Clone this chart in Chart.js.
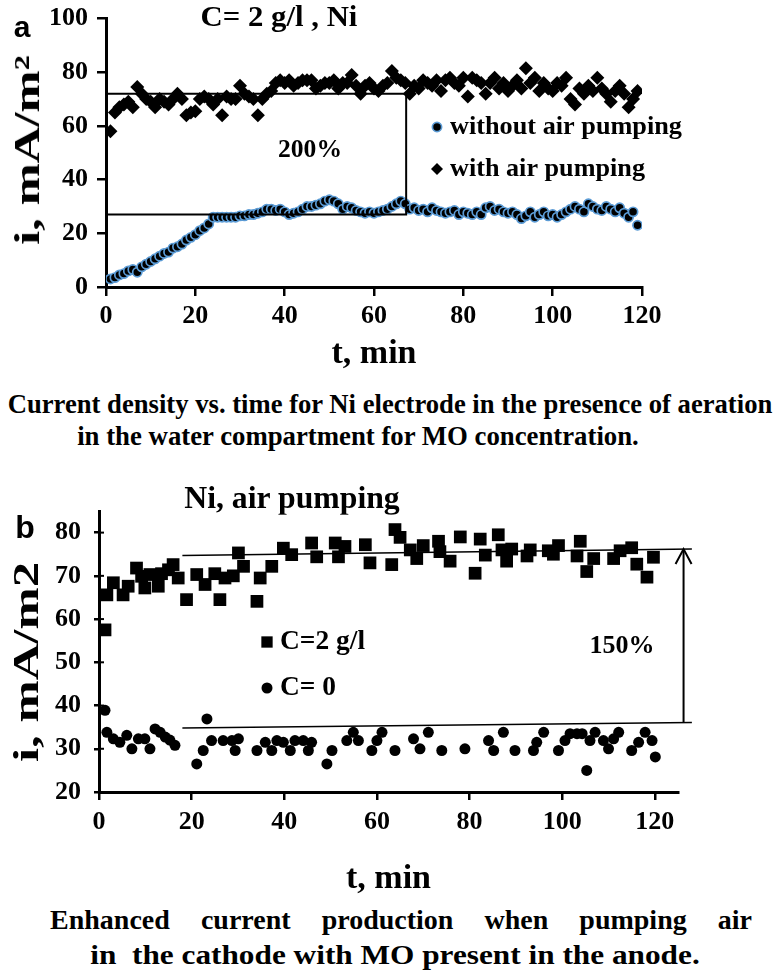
<!DOCTYPE html>
<html>
<head>
<meta charset="utf-8">
<script src="https://cdn.jsdelivr.net/npm/chart.js@4/dist/chart.umd.min.js"></script>
<style>
  body { margin: 0; width: 776px; height: 971px; background: #fff; position: relative; overflow: hidden;
         font-family: 'Liberation Serif', serif; font-weight: bold; color: #000; }
  .box { position: absolute; left: 0; width: 776px; }
  .t { position: absolute; white-space: nowrap; line-height: 1; transform: translate(-50%, -50%); }
  .sans { font-family: 'Liberation Sans', sans-serif; }
</style>
</head>
<body>
<div class="box" style="top:-6px;height:381px"><canvas id="chartA"></canvas></div>
<div class="box" style="top:470px;height:430px"><canvas id="chartB"></canvas></div>

<div class="t sans" style="left:22px;top:27px;font-size:30px">a</div>
<div class="t" style="left:279px;top:16px;font-size:29px" data-w="157">C= 2 g/l , Ni</div>
<div class="t" style="left:310px;top:149px;font-size:26px" data-w="64">200%</div>
<div class="t" style="left:27px;top:150px;font-size:36px" data-w="190" data-rot="1">i, mA/m²</div>
<div class="t" style="left:390px;top:404px;font-size:28px" data-w="765">Current density vs. time for Ni electrode in the presence of aeration</div>
<div class="t" style="left:358px;top:436px;font-size:28px" data-w="562">in the water compartment for MO concentration.</div>

<div class="t sans" style="left:25px;top:527px;font-size:32px">b</div>
<div class="t" style="left:292px;top:497px;font-size:31px" data-w="215">Ni, air pumping</div>
<div class="t" style="left:622px;top:645px;font-size:26px" data-w="65">150%</div>
<div class="t" style="left:26px;top:662px;font-size:36px" data-w="200" data-rot="1">i, mA/m2</div>
<div style="position:absolute;left:50px;top:906px;width:702px;font-size:28px;line-height:1;text-align:justify;text-align-last:justify;white-space:nowrap">Enhanced current production when pumping air</div>
<div class="t" style="left:395px;top:955px;font-size:28px;white-space:pre" data-w="610">in  the cathode with MO present in the anode.</div>

<script>
// panel a: Ni electrode, C = 2 g/l
const timeA = [1,2,3,4,5,6,7,8,9,10,11,12,13,14,15,16,17,18,19,20,21,22,23,24,25,26,27,28,29,30,
  31,32,33,34,35,36,37,38,39,40,41,42,43,44,45,46,47,48,49,50,51,52,53,54,55,56,57,58,59,60,
  61,62,63,64,65,66,67,68,69,70,71,72,73,74,75,76,77,78,79,80,81,82,83,84,85,86,87,88,89,90,
  91,92,93,94,95,96,97,98,99,100,101,102,103,104,105,106,107,108,109,110,111,112,113,114,115,116,117,118,119];
const withoutAirA = [3,3.5,4.5,5,6,6.5,5.5,7.5,8.5,9.5, 10.5,11.5,12.5,13,14.5,15,16,17.5,18.5,19.5,
  21,22,23.5,26,26,26,26,26,26,26.5, 26.5,27,27,27.5,28,29,29,28.5,29,28,
  27,27.5,28,29,30,30,30.5,31,32,32.5, 32,31,29,30,29.5,28.5,28,27.5,28,27.5,
  28,28.5,29,30,31,32,31,29,29.5,28.5, 29,28,29.5,28.5,28,27.5,28,28.5,27,28,
  27.5,27,28,27,29.5,30,28.5,29,28,27.5, 28,27,25.5,26.5,28,26,27,28,26.5,27,
  26,27,28,29,30,29,28,31,30,29, 28.5,30,29,28,29.5,27.5,26,28,23];
const withAirA = [58,65,67,68,69,67,74.5,72,70,69, 67,70,69,68,70,72,70,64,65,65.5,
  70,71,70,68,70,64,71,70,70,75, 72,71,70,64,70,72,73,76,77,76,
  77,75,76,77,77,77,74,75,76,76, 77,74,76,76,79,75,72,75,76,74,
  73,75,76,80.5,78,77,76,72,75,74, 77,76,75,77,73,77,78,76,75,78,
  71,78,77,76,72,76,78,74,76,73, 75,77,74,81.5,76,78,73,76,74,73,
  76,75,78,70,68,74,72,75,73,78, 74,72,69,73,75,72,67,70,73];
// 200% bracket
const bracketT = [0, 67.2, 67.2, 0];
const bracketI = [72, 72, 27, 27];
const xTicksA = [0, 20, 40, 60, 80, 100, 120];
const yTicksA = [0, 20, 40, 60, 80, 100];

// panel b: Ni, air pumping
const timeB2 = [1.3,1.7,3.1,5.2,6.3,8.1,9.2,9.9,11,12.8,13.5,15,16,17.1,18.9,21.1,22.9,25,26.1,27.2,
  29,30.1,31.2,34.1,34.8,37.3,39.8,41.6,45.9,47,51,51.7,53.1,57.5,58.5,63.2,63.9,65,67.2,
  68.6,70,73.3,73.6,75.8,78,81.2,82.3,83.4,86.2,87,88,89.1,92.4,93.1,97,98.1,99.2,103.2,103.9,
  105.3,106.8,111.1,112.5,115,116.1,118.3,119.7];
const currB2 = [57.5,65.6,68.4,65.6,67.6,71.8,69.9,67.2,70.3,67.6,70.5,71.4,72.6,69.5,64.5,70.3,68,70.5,64.5,69.5,
  70,75.3,72.2,64.1,69.5,72.2,76.4,74.9,77.6,74.4,77.6,74.4,76.8,77.2,73,72.6,80.7,78.9,76,
  74,77,78,75.6,73.4,79,70.6,78.5,74.8,79.5,76,73.4,76.2,74.6,76,75.8,75,77,74.6,78,
  71,74,74,75.8,76.5,72.7,69.7,74.3];
const timeB0 = [1.3,1.7,3.1,4.5,6,7.1,8.5,9.9,11,12.1,13.2,14.3,15.3,16.4,21.1,22.5,23.3,24.3,26.8,28.7,
  29.4,30.1,34.1,35.9,37.3,38.4,39.8,41.3,42.3,44.1,45.2,45.9,49.2,50.3,53.5,54.9,56,58.9,60,61.1,
  63.9,67.9,69.3,71.1,74,79,84.1,85.2,87.3,89.8,93.8,94.5,96,99.2,100.6,101.7,103.2,104.3,105.3,106,
  107.1,108.9,110,111.1,112.2,115,116.5,117.9,119.4,120.1];
const currB0 = [38.9,33.8,32.3,31.5,33.1,30,32.3,32.3,30,34.6,33.8,32.7,32,30.8,26.5,29.6,36.9,31.9,31.9,31.9,
  29.6,32.3,29.6,31.5,29.6,31.9,31.5,29.6,31.9,31.9,29.6,31.5,26.5,29.6,31.9,33.8,31.9,29.6,31.9,33.8,
  29.6,32.3,30,33.8,29.6,30,31.9,29.6,33.8,29.6,29.6,31.5,33.8,29.6,31.9,33.5,33.5,33.5,25,31.9,
  33.8,31.9,30,32.3,33.8,29.6,31.5,33.8,31.9,28.1];
const upperT = [18, 128], upperI = [74.7, 76.2];
const lowerT = [18, 128], lowerI = [34.8, 36.1];
const arrowT = [126.2, 126.2], arrowI = [36.1, 76.2];
const xTicksB = [0, 20, 40, 60, 80, 100, 120];
const yTicksB = [20, 30, 40, 50, 60, 70, 80];

const pts = (xs, ys) => xs.map((x, i) => ({ x: x, y: ys[i] }));

Chart.defaults.font.family = "'Liberation Serif', serif";
Chart.defaults.font.weight = 'bold';
Chart.defaults.color = '#000';

// legend drawn inside the plot, markers taken from the datasets
const innerLegend = {
    id: 'innerLegend',
    afterDraw(chart, args, opts) {
        const ctx = chart.ctx;
        ctx.save();
        ctx.font = 'bold ' + opts.size + 'px "Liberation Serif", serif';
        ctx.textBaseline = 'middle';
        opts.items.forEach(item => {
            const ds = chart.data.datasets[item.dataset];
            ctx.fillStyle = ds.backgroundColor;
            ctx.strokeStyle = ds.borderColor;
            ctx.lineWidth = ds.borderWidth || 0;
            Chart.helpers.drawPoint(ctx, {
                pointStyle: ds.pointStyle,
                radius: item.radius,
                borderWidth: ds.borderWidth || 0,
                rotation: 0
            }, item.x, item.y);
            ctx.fillStyle = '#000';
            const k = item.w / ctx.measureText(item.text).width;
            ctx.save();
            ctx.translate(item.x + 13, item.y);
            ctx.scale(k, 1);
            ctx.fillText(item.text, 0, 0);
            ctx.restore();
        });
        ctx.restore();
    }
};

// open arrow head on top of the 150% arrow, inner half of the y ticks
const extrasB = {
    id: 'extrasB',
    afterDatasetsDraw(chart) {
        const ctx = chart.ctx;
        const x = chart.scales.x, y = chart.scales.y;
        const px = x.getPixelForValue(arrowT[1]);
        const py = y.getPixelForValue(arrowI[1]);
        ctx.save();
        ctx.strokeStyle = '#000';
        ctx.lineWidth = 2;
        ctx.beginPath();
        ctx.moveTo(px - 8, py + 15);
        ctx.lineTo(px, py);
        ctx.lineTo(px + 8, py + 15);
        ctx.stroke();
        const left = chart.chartArea.left;
        yTicksB.forEach(v => {
            const ty = y.getPixelForValue(v);
            ctx.beginPath();
            ctx.moveTo(left, ty);
            ctx.lineTo(left + 5, ty);
            ctx.stroke();
        });
        ctx.restore();
    }
};

function axisStyle(tickList, tickLen, pad, size) {
    return {
        type: 'linear',
        afterBuildTicks: s => { s.ticks = tickList.map(v => ({ value: v })); },
        ticks: { font: { size: size, weight: 'bold' }, color: '#000', padding: pad },
        grid: { drawOnChartArea: false, color: '#000', lineWidth: 2.5, tickLength: tickLen },
        border: { color: '#000', width: 3 }
    };
}

const xTitle = (pb) => ({
    display: true, text: 't, min', font: { size: 34, weight: 'bold' }, color: '#000', padding: { top: 0, bottom: pb }
});

new Chart(document.getElementById('chartA'), {
    type: 'scatter',
    data: {
        datasets: [
            {
                label: 'bracket',
                data: pts(bracketT, bracketI),
                showLine: true,
                borderColor: '#000',
                borderWidth: 2,
                pointRadius: 0,
                tension: 0
            },
            {
                label: 'with air pumping',
                data: pts(timeA, withAirA),
                pointStyle: 'rectRot',
                pointRadius: 7,
                backgroundColor: '#000',
                borderColor: '#000',
                borderWidth: 0
            },
            {
                label: 'without air pumping',
                data: pts(timeA, withoutAirA),
                pointStyle: 'circle',
                pointRadius: 4.6,
                backgroundColor: '#000',
                borderColor: '#5b9bd5',
                borderWidth: 1.7
            }
        ]
    },
    options: {
        responsive: true,
        maintainAspectRatio: false,
        animation: false,
        layout: { padding: { left: 0, right: 134, top: 16, bottom: 0 } },
        plugins: {
            legend: { display: false },
            tooltip: { enabled: false },
            innerLegend: {
                size: 26,
                items: [
                    { dataset: 2, text: 'without air pumping', x: 437, y: 133, radius: 4.6, w: 232 },
                    { dataset: 1, text: 'with air pumping', x: 437, y: 175, radius: 6, w: 195 }
                ]
            }
        },
        scales: {
            x: Object.assign(axisStyle(xTicksA, 9, 5, 26), {
                min: 0, max: 120,
                title: xTitle(0),
                afterFit: s => { s.height = 88; }
            }),
            y: Object.assign(axisStyle(yTicksA, 9, 9, 26), {
                min: 0, max: 100,
                afterFit: s => { s.width = 106; }
            })
        }
    },
    plugins: [innerLegend]
});

new Chart(document.getElementById('chartB'), {
    type: 'scatter',
    data: {
        datasets: [
            {
                label: 'upper',
                data: pts(upperT, upperI),
                showLine: true, clip: false,
                borderColor: '#000', borderWidth: 1.5, pointRadius: 0
            },
            {
                label: 'lower',
                data: pts(lowerT, lowerI),
                showLine: true, clip: false,
                borderColor: '#000', borderWidth: 1.5, pointRadius: 0
            },
            {
                label: 'arrow',
                data: pts(arrowT, arrowI),
                showLine: true, clip: false,
                borderColor: '#000', borderWidth: 2, pointRadius: 0
            },
            {
                label: 'C=2 g/l',
                data: pts(timeB2, currB2),
                pointStyle: 'rect',
                pointRadius: 9,
                backgroundColor: '#000',
                borderColor: '#000',
                borderWidth: 0
            },
            {
                label: 'C= 0',
                data: pts(timeB0, currB0),
                pointStyle: 'circle',
                pointRadius: 5.5,
                backgroundColor: '#000',
                borderColor: '#000',
                borderWidth: 0
            }
        ]
    },
    options: {
        responsive: true,
        maintainAspectRatio: false,
        animation: false,
        layout: { padding: { left: 0, right: 98, top: 41, bottom: 0 } },
        plugins: {
            legend: { display: false },
            tooltip: { enabled: false },
            innerLegend: {
                size: 27,
                items: [
                    { dataset: 3, text: 'C=2 g/l', x: 267, y: 172, radius: 8, w: 85 },
                    { dataset: 4, text: 'C= 0', x: 267, y: 218, radius: 5.5, w: 56 }
                ]
            }
        },
        scales: {
            x: Object.assign(axisStyle(xTicksB, 8, 7, 26), {
                min: 0, max: 125,
                title: xTitle(0),
                afterFit: s => { s.height = 108; }
            }),
            y: Object.assign(axisStyle(yTicksB, 5, 13, 26), {
                min: 20, max: 85,
                afterFit: s => { s.width = 99; }
            })
        }
    },
    plugins: [innerLegend, extrasB]
});

// squeeze the texts to the widths they have in the figure
document.querySelectorAll('[data-w]').forEach(el => {
    const k = el.dataset.w / el.offsetWidth;
    const rot = el.dataset.rot ? ' rotate(-90deg)' : '';
    el.style.transform = 'translate(-50%, -50%)' + rot + ' scaleX(' + k + ')';
});
</script>
</body>
</html>
